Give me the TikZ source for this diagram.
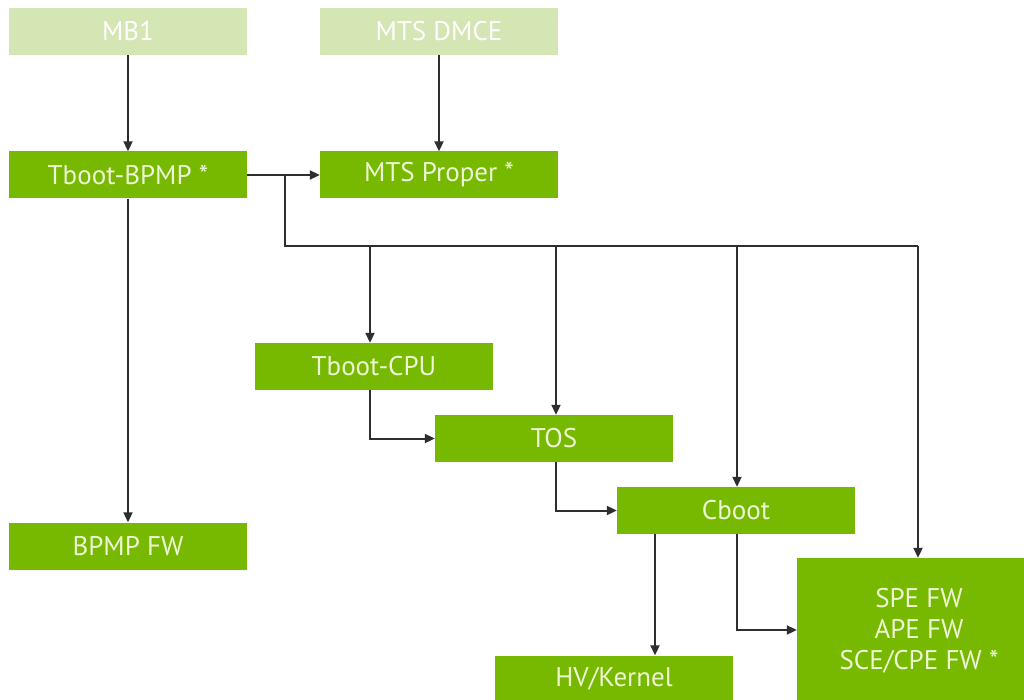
\documentclass[tikz,border=0pt]{standalone}
\usepackage{fontspec}
\setmainfont{PT Sans}
\usetikzlibrary{arrows.meta}
\definecolor{nvgreen}{HTML}{76B900}
\definecolor{nvpale}{HTML}{D3E6B3}
\definecolor{boxtext}{HTML}{EEF7D4}
\definecolor{wire}{HTML}{2E2E2E}
\tikzset{
  stage/.style={rectangle, fill=nvgreen, text=boxtext, inner sep=0pt,
    minimum width=238pt, minimum height=47pt, font=\fontsize{27}{31}\selectfont},
  prestage/.style={stage, fill=nvpale, text=white},
  wireline/.style={draw=wire, line width=2pt},
  flow/.style={wireline, -{Triangle[length=10pt,width=9pt]}}
}
\begin{document}
\begin{tikzpicture}[x=1pt,y=-1pt]
\useasboundingbox (0,0) rectangle (1024,700);
\fill[white] (0,0) rectangle (1024,700);

% boot stages
\node[prestage] (mb1)   at (128,31.5) {MB1};
\node[prestage] (dmce)  at (439,31.5) {MTS DMCE};
\node[stage] (tbbpmp)   at (128,175) {Tboot-BPMP *};
\node[stage] (mtsprop)  at (439,175) {MTS Proper *};
\node[stage] (bpmpfw)   at (128,546) {BPMP FW};
\node[stage] (tbcpu)    at (374,366.5) {Tboot-CPU};
\node[stage] (tos)      at (554,438.5) {TOS};
\node[stage] (cboot)    at (736,510.5) {Cboot};
\node[stage] (hvk)      at (614,679) {HV/Kernel};
\node[stage, minimum width=244pt, minimum height=146pt, align=center,
      font=\fontsize{27}{31}\selectfont] (spe) at (919,631)
      {SPE FW\\APE FW\\SCE/CPE FW *};

% junction points of the fan-out bus
\coordinate (j0) at (285,175);
\coordinate (j1) at (285,246);
\coordinate (dcpu) at (370,246);
\coordinate (dtos) at (556,246);
\coordinate (dcb) at (737,246);
\coordinate (dspe) at (918,246);

% straight hand-offs
\draw[flow] (mb1.south) -- (tbbpmp.north);
\draw[flow] (dmce.south) -- (mtsprop.north);
\draw[flow] (tbbpmp.east) -- (mtsprop.west);
\draw[flow] (tbbpmp.south) -- (bpmpfw.north);

% bus from Tboot-BPMP to later stages
\draw[wireline] (j0) -- (j1) -- (dspe);
\draw[flow] (dcpu) -- (dcpu |- tbcpu.north);
\draw[flow] (dtos) -- (dtos |- tos.north);
\draw[flow] (dcb) -- (dcb |- cboot.north);
\draw[flow] (dspe) -- (dspe |- spe.north);

% chained stages
\coordinate (ocpu) at (370,390);
\draw[flow] (ocpu) |- (tos.west);
\coordinate (otos) at (556,462);
\draw[flow] (otos) |- (cboot.west);
\coordinate (ocb1) at (655,534);
\draw[flow] (ocb1) -- (ocb1 |- hvk.north);
\coordinate (ocb2) at (737,534);
\draw[flow] (ocb2) |- (spe.west |- 0,630);
\end{tikzpicture}
\end{document}
